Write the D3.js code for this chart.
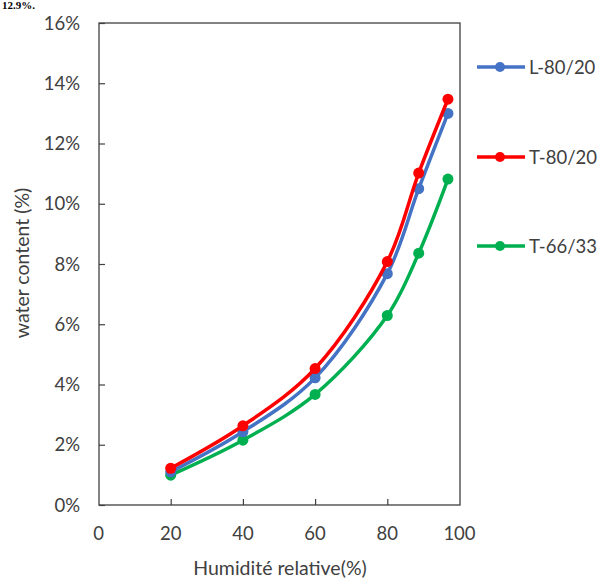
<!DOCTYPE html>
<html><head><meta charset="utf-8">
<script src="https://cdn.jsdelivr.net/npm/d3@7"></script>
<style>body{margin:0;background:#fff}svg{display:block}text{font-family:Lato,"Open Sans",sans-serif;fill:#404040}</style>
</head><body>
<script>
const humidity = [20, 40, 60, 80, 88.7, 96.8];
const seriesNames = ["L-80/20", "T-80/20", "T-66/33"];
const seriesL8020 = [1.1, 2.43, 4.22, 7.68, 10.5, 13.0];
const seriesT8020 = [1.22, 2.63, 4.53, 8.08, 11.02, 13.47];
const seriesT6633 = [0.99, 2.15, 3.67, 6.29, 8.36, 10.82];
const colors = ["#4472C4", "#FF0000", "#00B050"];
const yTicks = [0, 2, 4, 6, 8, 10, 12, 14, 16];
const xTicks = [0, 20, 40, 60, 80, 100];

const W = 599, H = 579;
const svg = d3.select("body").append("svg").attr("width", W).attr("height", H);

// text fragment at top
svg.append("text").attr("x", 2).attr("y", 9).style("font-family", "'Liberation Serif',serif")
  .style("font-weight", "bold").style("font-size", "11px").style("fill", "#000").text("12.9%.");

const x = d3.scaleLinear().domain([0, 100]).range([98.5, 459.5]);
const y = d3.scaleLinear().domain([0, 16]).range([505, 23]);

// frame
svg.append("rect").attr("x", 99).attr("y", 23).attr("width", 361).attr("height", 482)
  .attr("fill", "none").attr("stroke", "#404040").attr("stroke-width", 1.3);

// y axis
const ya = svg.append("g").attr("transform", "translate(99,0)")
  .call(d3.axisRight(y).tickValues(yTicks).tickSize(6).tickFormat(""));
ya.select(".domain").remove();
ya.selectAll("line").attr("stroke", "#404040").attr("stroke-width", 1.2);
svg.selectAll(".ylab").data(yTicks).enter().append("text")
  .attr("x", 80).attr("y", d => y(d) + 6.5).attr("text-anchor", "end")
  .style("font-size", "18.5px").text(d => d + "%");

// x axis
const xa = svg.append("g").attr("transform", "translate(0,505)")
  .call(d3.axisTop(x).tickValues(xTicks.slice(1, -1)).tickSize(6).tickFormat(""));
xa.select(".domain").remove();
xa.selectAll("line").attr("stroke", "#404040").attr("stroke-width", 1.2);
svg.selectAll(".xlab").data(xTicks).enter().append("text")
  .attr("x", d => x(d)).attr("y", 540).attr("text-anchor", "middle")
  .style("font-size", "18.5px").text(d => d);

svg.append("text").attr("x", 280).attr("y", 575).attr("text-anchor", "middle")
  .style("font-size", "19.5px").text("Humidité relative(%)");
svg.append("text").attr("transform", "translate(29,263) rotate(-90)").attr("text-anchor", "middle")
  .style("font-size", "19.5px").text("water content (%)");

const all = [seriesL8020, seriesT8020, seriesT6633];
const line = d3.line().x((d, i) => x(humidity[i])).y(d => y(d)).curve(d3.curveCatmullRom.alpha(0.5));
// draw order: green, blue, red (red on top)
[2, 0, 1].forEach(k => {
  const g = svg.append("g");
  g.append("path").datum(all[k]).attr("d", line).attr("fill", "none")
    .attr("stroke", colors[k]).attr("stroke-width", 3.5).attr("stroke-linejoin", "round");
  g.selectAll("circle").data(all[k]).enter().append("circle")
    .attr("cx", (d, i) => x(humidity[i])).attr("cy", d => y(d)).attr("r", 5.5).attr("fill", colors[k]);
});

// legend
const legY = [67, 157, 246];
seriesNames.forEach((n, k) => {
  const g = svg.append("g").attr("transform", `translate(0,${legY[k]})`);
  g.append("line").attr("x1", 477).attr("x2", 525).attr("stroke", colors[k]).attr("stroke-width", 3.5);
  g.append("circle").attr("cx", 500).attr("r", 5).attr("fill", colors[k]);
  g.append("text").attr("x", 529).attr("y", 6.5).style("font-size", "18.5px").text(n);
});
</script>
</body></html>
